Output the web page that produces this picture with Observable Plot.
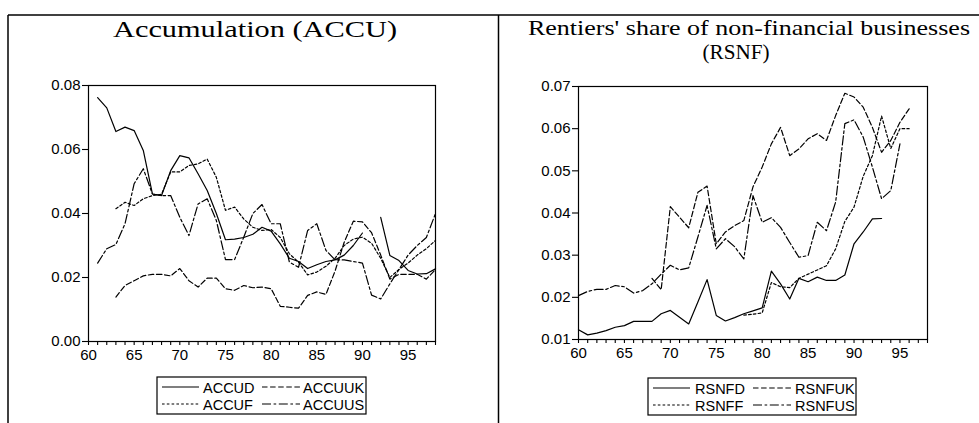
<!DOCTYPE html>
<html><head><meta charset="utf-8">
<script src="https://cdn.jsdelivr.net/npm/d3@7"></script>
<script src="https://cdn.jsdelivr.net/npm/@observablehq/plot@0.6"></script>
<style>
body{margin:0;background:#fff;}
#root{position:relative;width:979px;height:423px;overflow:hidden;background:#fff;}
.pan{position:absolute;top:0;}
#overlay{position:absolute;left:0;top:0;pointer-events:none;}
</style></head><body><div id="root"></div>
<script>
// ---------- data ----------
const years = d3.range(60, 99); // 1960..1998

// Left panel: Accumulation (ACCU)
const ACCUD  = [null,.0762,.073,.0656,.067,.0659,.0597,.0461,.0456,.0534,.0581,.0574,.0524,.0472,.040,.0318,.032,.0325,.0335,.0357,.0345,.0305,.026,.025,.0228,.024,.025,.0255,.027,.030,.0339,null,.0388,.0269,.0253,.0222,.0211,.0212,.0227];
const ACCUF  = [null,null,null,.0415,.0435,.0425,.0446,.0456,.046,.053,.053,.055,.0555,.057,.0513,.041,.042,.0383,.0357,.0347,.035,.0325,.0274,.0248,.0208,.0217,.0235,.026,.030,.032,.0326,.0307,.026,.020,.0225,.0245,.027,.029,.0316];
const ACCUUK = [null,null,null,.0139,.0175,.019,.0205,.021,.021,.0205,.0228,.019,.017,.0198,.0198,.0165,.016,.0175,.0168,.017,.0165,.011,.0107,.0104,.0144,.0155,.0147,.022,.031,.0376,.0374,.034,.027,.0195,.021,.021,.021,.0195,.0225];
const ACCUUS = [null,.0245,.029,.0303,.0368,.0493,.054,.0461,.0456,.0456,.0388,.0331,.043,.0446,.0378,.0256,.0256,.0326,.040,.0428,.0368,.0368,.0248,.0232,.0347,.0368,.0285,.0255,.0255,.025,.0245,.0145,.0133,.018,.0225,.027,.030,.0325,.040];

// Right panel: Rentiers' share of non-financial businesses (RSNF)
const RSNFD  = [.0123,.0111,.0115,.0121,.0129,.0133,.0143,.0143,.0143,.0161,.0169,.0153,.0137,.0189,.0242,.0157,.0144,.0152,.0161,.0168,.0175,.0262,.0232,.0196,.0245,.0237,.0248,.024,.024,.0253,.0327,.0355,.0386,.0387,null,null,null,null,null];
const RSNFF  = [null,null,null,null,null,null,null,null,null,null,null,null,null,null,null,null,null,null,.0158,.016,.0163,.0235,.0225,.0223,.0245,.0255,.0265,.0275,.0315,.038,.0414,.0487,.0536,.063,.0553,.060,.060,null,null];
const RSNFUK = [null,null,null,null,null,null,null,null,.0245,.0218,.0415,.039,.0365,.0449,.0464,.0327,.0355,.037,.0382,.0462,.0509,.0564,.0603,.0536,.0552,.0576,.0588,.0572,.0631,.0684,.0675,.0651,.0603,.0544,.0572,.0615,.0647,null,null];
const RSNFUS = [.0204,.0214,.0219,.0219,.0228,.0225,.021,.0216,.0232,.0255,.0276,.0265,.027,.0343,.0418,.0315,.0339,.032,.0291,.0441,.0378,.0389,.0366,.033,.0295,.0299,.0378,.0358,.0426,.0612,.0621,.058,.0509,.0434,.0453,.0564,null,null,null];

const accuNames = ["ACCUD","ACCUF","ACCUUK","ACCUUS"];
const rsnfNames = ["RSNFD","RSNFF","RSNFUK","RSNFUS"];
const leftYTicks = [0, .02, .04, .06, .08];
const rightYTicks = [.01, .02, .03, .04, .05, .06, .07];
const xLabelYears = [60, 65, 70, 75, 80, 85, 90, 95];

// ---------- styles ----------
const dashes = {D: null, F: "2.6,2.2", UK: "5.5,2.6", US: "9,2.6,2.6,2.6"};
const accuSeries = [
  {name: accuNames[0], values: ACCUD,  dash: dashes.D},
  {name: accuNames[1], values: ACCUF,  dash: dashes.F},
  {name: accuNames[2], values: ACCUUK, dash: dashes.UK},
  {name: accuNames[3], values: ACCUUS, dash: dashes.US}
];
const rsnfSeries = [
  {name: rsnfNames[0], values: RSNFD,  dash: dashes.D},
  {name: rsnfNames[1], values: RSNFF,  dash: dashes.F},
  {name: rsnfNames[2], values: RSNFUK, dash: dashes.UK},
  {name: rsnfNames[3], values: RSNFUS, dash: dashes.US}
];

function makePanel(series, yDomain, yTicks, opts) {
  return Plot.plot({
    width: opts.width, height: 380,
    marginLeft: 88, marginRight: opts.marginRight, marginTop: opts.marginTop, marginBottom: opts.marginBottom,
    x: {domain: [60, 98], label: null},
    y: {domain: yDomain, label: null},
    style: {background: "none", fontFamily: "'Liberation Sans', Arial, sans-serif", fontSize: "15px", color: "black", overflow: "visible"},
    marks: [
      Plot.frame({stroke: "black", strokeWidth: 1.2}),
      Plot.axisX({ticks: years, tickFormat: d => xLabelYears.includes(d) ? String(d) : "", tickSize: 4, tickPadding: 4, stroke: "black", strokeWidth: 1.1}),
      Plot.axisY({ticks: yTicks, tickFormat: d3.format(".2f"), tickSize: 6, tickPadding: 2, stroke: "black", strokeWidth: 1.1}),
      ...series.map(s => Plot.line(
        years.map((yr, i) => ({year: yr, v: s.values[i]})),
        {x: "year", y: "v", stroke: "black", strokeWidth: 1.2, strokeDasharray: s.dash}
      ))
    ]
  });
}

const root = document.getElementById("root");

const left = makePanel(accuSeries, [0, 0.08], leftYTicks, {width: 490, marginRight: 55, marginTop: 85, marginBottom: 39});
const lw = document.createElement("div"); lw.className = "pan"; lw.style.left = "0px"; lw.appendChild(left); root.appendChild(lw);

const right = makePanel(rsnfSeries, [0.01, 0.07], rightYTicks, {width: 489, marginRight: 52, marginTop: 86, marginBottom: 41});
const rw = document.createElement("div"); rw.className = "pan"; rw.style.left = "490px"; rw.appendChild(right); root.appendChild(rw);

// ---------- overlay: frame lines, titles, legends ----------
const NS = "http://www.w3.org/2000/svg";
const ov = document.createElementNS(NS, "svg");
ov.setAttribute("id", "overlay"); ov.setAttribute("width", 979); ov.setAttribute("height", 423);
root.appendChild(ov);
function el(tag, attrs, text) {
  const e = document.createElementNS(NS, tag);
  for (const k in attrs) e.setAttribute(k, attrs[k]);
  if (text != null) e.textContent = text;
  ov.appendChild(e); return e;
}
// outer frame
el("line", {x1: 8, y1: 15, x2: 979, y2: 15, stroke: "black", "stroke-width": 1.5});
el("line", {x1: 8, y1: 15, x2: 8, y2: 423, stroke: "black", "stroke-width": 1.5});
el("line", {x1: 498.5, y1: 15, x2: 498.5, y2: 423, stroke: "black", "stroke-width": 1.5});

// titles
const serif = "'Liberation Serif', 'Times New Roman', serif";
el("text", {x: 255, y: 37, "text-anchor": "middle", "font-family": serif, "font-size": 23, textLength: 284, lengthAdjust: "spacingAndGlyphs"}, "Accumulation (ACCU)");
el("text", {x: 749, y: 35, "text-anchor": "middle", "font-family": serif, "font-size": 21, textLength: 442, lengthAdjust: "spacingAndGlyphs"}, "Rentiers' share of non-financial businesses");
el("text", {x: 736, y: 59, "text-anchor": "middle", "font-family": serif, "font-size": 21, textLength: 67, lengthAdjust: "spacingAndGlyphs"}, "(RSNF)");

// legends
function legend(x0, y0, w, h, series, colText) {
  el("rect", {x: x0, y: y0, width: w, height: h, fill: "white", stroke: "black", "stroke-width": 1.2});
  const cols = [[5, 42, colText[0]], [105, 143, colText[1]]];
  const rows = [[10, 16], [27, 32.5]];
  const pos = {0: [0, 0], 1: [1, 0], 2: [0, 1], 3: [1, 1]}; // D, F, UK, US -> (row, col)
  series.forEach((s, i) => {
    const [r, c] = pos[i];
    const [a, b, tx] = cols[c];
    const [ly, ty] = rows[r];
    const ln = el("line", {x1: x0 + a, y1: y0 + ly, x2: x0 + b, y2: y0 + ly, stroke: "black", "stroke-width": 1.2});
    if (s.dash) ln.setAttribute("stroke-dasharray", s.dash);
    el("text", {x: x0 + tx, y: y0 + ty, "font-family": "'Liberation Sans', Arial, sans-serif", "font-size": 14.5}, s.name);
  });
}
legend(157, 377, 209, 37, accuSeries, [46, 146]);
legend(648, 378, 208, 37, rsnfSeries, [47, 147]);
</script></body></html>
